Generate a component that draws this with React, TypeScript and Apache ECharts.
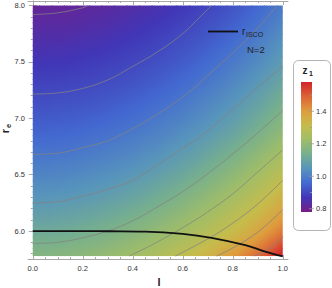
import React, { useEffect, useRef } from 'react';
import * as echarts from 'echarts';

// ---------- data ----------
const L_VALUES = [0, 0.05, 0.1, 0.15, 0.2, 0.25, 0.3, 0.35, 0.4, 0.45, 0.5, 0.55, 0.6, 0.65, 0.7, 0.75, 0.8, 0.85, 0.9, 0.95, 1.0];
const R_VALUES = [8.0, 7.9, 7.8, 7.7, 7.6, 7.5, 7.4, 7.3, 7.2, 7.1, 7.0, 6.9, 6.8, 6.7, 6.6, 6.5, 6.4, 6.3, 6.2, 6.1, 6.0, 5.9, 5.8];

const Z_R80 = [0.812,0.813,0.814,0.817,0.820,0.823,0.828,0.834,0.840,0.847,0.855,0.863,0.872,0.883,0.894,0.906,0.920,0.935,0.952,0.971,0.992];
const Z_R79 = [0.822,0.823,0.824,0.826,0.830,0.834,0.839,0.845,0.851,0.858,0.865,0.874,0.883,0.894,0.906,0.918,0.932,0.948,0.966,0.986,1.007];
const Z_R78 = [0.833,0.834,0.835,0.837,0.841,0.845,0.849,0.855,0.862,0.869,0.877,0.885,0.896,0.906,0.918,0.931,0.946,0.963,0.981,1.001,1.022];
const Z_R77 = [0.844,0.845,0.846,0.848,0.852,0.856,0.861,0.866,0.873,0.880,0.889,0.898,0.908,0.918,0.930,0.944,0.960,0.977,0.996,1.016,1.038];
const Z_R76 = [0.855,0.856,0.857,0.860,0.863,0.867,0.872,0.878,0.885,0.893,0.900,0.910,0.920,0.931,0.944,0.959,0.975,0.992,1.011,1.032,1.055];
const Z_R75 = [0.866,0.867,0.868,0.871,0.875,0.879,0.884,0.890,0.897,0.904,0.913,0.922,0.933,0.945,0.959,0.974,0.990,1.008,1.027,1.048,1.071];
const Z_R74 = [0.878,0.879,0.881,0.883,0.887,0.891,0.897,0.902,0.909,0.917,0.926,0.936,0.947,0.960,0.974,0.989,1.006,1.024,1.044,1.065,1.089];
const Z_R73 = [0.891,0.892,0.893,0.896,0.899,0.904,0.909,0.915,0.922,0.930,0.940,0.950,0.962,0.975,0.989,1.005,1.022,1.040,1.061,1.083,1.107];
const Z_R72 = [0.903,0.904,0.906,0.909,0.912,0.917,0.922,0.928,0.936,0.945,0.955,0.965,0.978,0.991,1.006,1.021,1.039,1.058,1.079,1.102,1.127];
const Z_R71 = [0.916,0.917,0.919,0.922,0.925,0.930,0.936,0.943,0.951,0.960,0.970,0.981,0.993,1.007,1.022,1.038,1.056,1.076,1.097,1.121,1.147];
const Z_R70 = [0.930,0.931,0.933,0.936,0.940,0.945,0.951,0.958,0.966,0.976,0.986,0.998,1.010,1.024,1.039,1.056,1.074,1.094,1.117,1.141,1.167];
const Z_R69 = [0.945,0.946,0.948,0.951,0.955,0.961,0.967,0.975,0.983,0.992,1.003,1.015,1.028,1.042,1.057,1.074,1.093,1.114,1.137,1.162,1.188];
const Z_R68 = [0.961,0.962,0.964,0.967,0.972,0.978,0.984,0.992,1.001,1.010,1.021,1.034,1.047,1.062,1.078,1.096,1.116,1.138,1.161,1.186,1.213];
const Z_R67 = [0.978,0.979,0.981,0.984,0.989,0.995,1.002,1.009,1.018,1.029,1.040,1.053,1.067,1.082,1.100,1.119,1.140,1.162,1.186,1.211,1.238];
const Z_R66 = [0.995,0.996,0.998,1.002,1.007,1.013,1.020,1.028,1.037,1.048,1.060,1.073,1.087,1.104,1.123,1.143,1.164,1.187,1.211,1.236,1.264];
const Z_R65 = [1.013,1.014,1.016,1.020,1.025,1.032,1.039,1.047,1.057,1.068,1.081,1.094,1.110,1.128,1.147,1.167,1.189,1.212,1.236,1.262,1.290];
const Z_R64 = [1.032,1.033,1.035,1.039,1.044,1.051,1.058,1.067,1.078,1.089,1.103,1.117,1.134,1.152,1.171,1.191,1.214,1.237,1.262,1.288,1.317];
const Z_R63 = [1.051,1.052,1.055,1.059,1.064,1.071,1.079,1.088,1.099,1.112,1.126,1.141,1.158,1.176,1.196,1.217,1.239,1.263,1.288,1.315,1.346];
const Z_R62 = [1.071,1.072,1.075,1.080,1.085,1.092,1.101,1.111,1.122,1.135,1.150,1.165,1.182,1.201,1.221,1.242,1.265,1.289,1.315,1.344,1.378];
const Z_R61 = [1.092,1.093,1.096,1.101,1.107,1.115,1.124,1.134,1.146,1.159,1.174,1.190,1.207,1.227,1.246,1.268,1.291,1.316,1.344,1.376,1.411];
const Z_R60 = [1.115,1.116,1.119,1.124,1.131,1.139,1.148,1.158,1.170,1.184,1.199,1.215,1.233,1.252,1.272,1.294,1.318,1.345,1.378,1.414,1.456];
const Z_R59 = [1.139,1.140,1.143,1.149,1.155,1.163,1.173,1.184,1.197,1.211,1.227,1.243,1.261,1.281,1.303,1.326,1.354,1.386,1.422,1.464,1.515];
const Z_R58 = [1.163,1.164,1.168,1.173,1.180,1.189,1.199,1.210,1.224,1.238,1.254,1.272,1.291,1.312,1.336,1.364,1.396,1.432,1.473,1.520,1.575];

const Z_ROWS = [Z_R80, Z_R79, Z_R78, Z_R77, Z_R76, Z_R75, Z_R74, Z_R73, Z_R72, Z_R71, Z_R70, Z_R69, Z_R68, Z_R67, Z_R66, Z_R65, Z_R64, Z_R63, Z_R62, Z_R61, Z_R60, Z_R59, Z_R58];

// contour lines [l, r]
const CONTOUR_A = [[0, 7.92], [0.1, 7.935], [0.2, 7.98], [0.22, 8.0]];
const CONTOUR_B = [[0, 7.215], [0.1, 7.225], [0.2, 7.265], [0.3, 7.34], [0.4, 7.46], [0.5, 7.59], [0.6, 7.75], [0.67, 7.9], [0.715, 8.0]];
const CONTOUR_C = [[0, 6.68], [0.1, 6.69], [0.2, 6.74], [0.3, 6.8], [0.388, 6.894], [0.45, 6.97], [0.55, 7.11], [0.635, 7.25], [0.7, 7.38], [0.8, 7.58], [0.9, 7.8], [0.97, 7.98], [0.98, 8.0]];
const CONTOUR_D = [[0, 6.25], [0.1, 6.26], [0.2, 6.31], [0.3, 6.37], [0.4, 6.45], [0.488, 6.57], [0.588, 6.717], [0.668, 6.835], [0.75, 6.98], [0.888, 7.25], [1.0, 7.46]];
const CONTOUR_E = [[0, 5.89], [0.1, 5.9], [0.2, 5.94], [0.3, 6.0], [0.4, 6.09], [0.488, 6.2], [0.6, 6.35], [0.695, 6.5], [0.82, 6.72], [0.9, 6.87], [1.0, 7.07]];
const CONTOUR_F = [[0.385, 5.778], [0.448, 5.845], [0.488, 5.89], [0.6, 6.03], [0.7, 6.17], [0.8, 6.33], [0.888, 6.5], [1.0, 6.72]];
const CONTOUR_G = [[0.57, 5.778], [0.7, 5.93], [0.8, 6.07], [0.9, 6.24], [1.0, 6.45]];
const CONTOUR_H = [[0.735, 5.778], [0.8, 5.85], [0.9, 5.99], [1.0, 6.19]];
const CONTOUR_I = [[0.885, 5.778], [0.95, 5.85], [1.0, 5.95]];
const CONTOURS = [CONTOUR_A, CONTOUR_B, CONTOUR_C, CONTOUR_D, CONTOUR_E, CONTOUR_F, CONTOUR_G, CONTOUR_H, CONTOUR_I];

const R_ISCO = [[0, 6.0], [0.2, 6.0], [0.3, 5.998], [0.45, 5.995], [0.6, 5.975], [0.715, 5.94], [0.85, 5.875], [0.93, 5.817], [1.0, 5.775]];

const X_MAJOR = [0, 0.2, 0.4, 0.6, 0.8, 1.0];
const X_MINOR = [0.05, 0.1, 0.15, 0.25, 0.3, 0.35, 0.45, 0.5, 0.55, 0.65, 0.7, 0.75, 0.85, 0.9, 0.95];
const Y_MAJOR = [6.0, 6.5, 7.0, 7.5, 8.0];
const Y_MINOR = [5.8, 5.9, 6.1, 6.2, 6.3, 6.4, 6.6, 6.7, 6.8, 6.9, 7.1, 7.2, 7.3, 7.4, 7.6, 7.7, 7.8, 7.9];
const BAR_TICKS = [0.8, 1.0, 1.2, 1.4];
const BAR_MINOR = [0.9, 1.1, 1.3, 1.5];

const Z_MIN = 0.78;
const Z_MAX = 1.58;
const RAINBOW = ['#781C86', '#4136B6', '#436AD0', '#5794BC', '#76AF8E', '#9FBD68', '#C5BC4C', '#DE9C3D', '#DC6336', '#D22229'];

// ---------- layout ----------
const W = 332;
const H = 288;
const FONT = 'Liberation Sans, Arial, sans-serif';
const FRAME = '#a8a8a8';
const L_LO = 0, L_HI = 1, R_LO = 5.778, R_HI = 8.0;
const DL = 0.05, DR = 0.1;
const OVERLAP = 1.0;
const BAR_X = 301, BAR_W = 11, BAR_TOP = 82, BAR_BOTTOM = 212;

const barY = (v: number) => BAR_BOTTOM - ((v - Z_MIN) / (Z_MAX - Z_MIN)) * (BAR_BOTTOM - BAR_TOP);

const RGB = RAINBOW.map((h) => [parseInt(h.slice(1, 3), 16), parseInt(h.slice(3, 5), 16), parseInt(h.slice(5, 7), 16)]);
const colorOf = (v: number) => {
  const t = Math.min(Math.max((v - Z_MIN) / (Z_MAX - Z_MIN), 0), 1) * (RGB.length - 1);
  const k = Math.min(Math.floor(t), RGB.length - 2);
  const f = t - k;
  const a = RGB[k], b = RGB[k + 1];
  return `rgb(${Math.round(a[0] + (b[0] - a[0]) * f)},${Math.round(a[1] + (b[1] - a[1]) * f)},${Math.round(a[2] + (b[2] - a[2]) * f)})`;
};
const STOP_VALUES = RAINBOW.map((_, k) => Z_MIN + (k * (Z_MAX - Z_MIN)) / (RAINBOW.length - 1));

export default function App() {
  const ref = useRef<HTMLDivElement>(null);

  useEffect(() => {
    if (!ref.current) return;
    const chart = echarts.init(ref.current, null, { renderer: 'svg' });

    const NC = L_VALUES.length;
    const NR = R_VALUES.length;
    const cells: number[][] = [];
    R_VALUES.forEach((r, i) => {
      L_VALUES.forEach((l, j) => {
        cells.push([l, r, Z_ROWS[i][j]]);
      });
    });

    const axisCommon = (min: number, max: number) => ({
      type: 'value' as const,
      min,
      max,
      splitLine: { show: false },
      minorTick: { show: false },
    });
    const XMIN = -0.019, XMAX = 1.021, YMIN = 5.752, YMAX = 8.04;
    const majorTick = (vals: number[]) => ({ show: true, inside: true, length: 4, customValues: vals, lineStyle: { color: FRAME, width: 1 } });
    const minorTickS = (vals: number[]) => ({ show: true, inside: true, length: 2, customValues: vals, lineStyle: { color: FRAME, width: 1 } });
    const labelStyle = { fontSize: 7.5, color: '#333', fontFamily: FONT };

    const stops = RAINBOW.map((c, i) => ({ offset: i / (RAINBOW.length - 1), color: c }));

    const graphics: any[] = [];
    graphics.push({ type: 'rect', z: 100, shape: { x: 293.5, y: 60.5, width: 37, height: 170, r: 5 }, style: { fill: '#fff', stroke: '#b4b4b4', lineWidth: 1 } });
    graphics.push({ type: 'rect', z: 101, shape: { x: BAR_X, y: BAR_TOP, width: BAR_W, height: BAR_BOTTOM - BAR_TOP }, style: { fill: { type: 'linear', x: 0, y: 1, x2: 0, y2: 0, colorStops: stops } } });
    BAR_TICKS.forEach((v) => {
      graphics.push({ type: 'line', z: 102, shape: { x1: BAR_X + BAR_W - 3, y1: barY(v), x2: BAR_X + BAR_W + 2, y2: barY(v) }, style: { stroke: '#999', lineWidth: 0.8 } });
      graphics.push({ type: 'text', z: 102, x: 316, y: barY(v), style: { text: v.toFixed(1), fontSize: 7.5, fill: '#333', fontFamily: FONT, align: 'left', verticalAlign: 'middle' } });
    });
    BAR_MINOR.forEach((v) => {
      graphics.push({ type: 'line', z: 102, shape: { x1: BAR_X + BAR_W - 2, y1: barY(v), x2: BAR_X + BAR_W, y2: barY(v) }, style: { stroke: '#999', lineWidth: 0.8 } });
    });
    graphics.push({ type: 'text', z: 102, x: 305, y: 70, style: { text: 'z', fontSize: 10, fontWeight: 'bold', fill: '#222', fontFamily: FONT, align: 'center', verticalAlign: 'middle' } });
    graphics.push({ type: 'text', z: 102, x: 311, y: 73, style: { text: '1', fontSize: 7, fontWeight: 'bold', fill: '#222', fontFamily: FONT, align: 'center', verticalAlign: 'middle' } });
    graphics.push({ type: 'line', z: 102, shape: { x1: 208, y1: 31.5, x2: 238, y2: 31.5 }, style: { stroke: '#111', lineWidth: 1.8 } });
    graphics.push({ type: 'text', z: 102, x: 242, y: 31, style: { text: 'r', fontSize: 10, fill: '#222', fontFamily: FONT, align: 'left', verticalAlign: 'middle' } });
    graphics.push({ type: 'text', z: 102, x: 246, y: 34.5, style: { text: 'ISCO', fontSize: 7, fill: '#222', fontFamily: FONT, align: 'left', verticalAlign: 'middle' } });
    graphics.push({ type: 'text', z: 102, x: 247, y: 49, style: { text: 'N=2', fontSize: 9.5, fill: '#222', fontFamily: FONT, align: 'left', verticalAlign: 'middle' } });
    graphics.push({ type: 'text', z: 102, x: 159, y: 282, style: { text: 'l', fontSize: 11, fontWeight: 'bold', fill: '#222', fontFamily: FONT, align: 'center', verticalAlign: 'middle' } });
    graphics.push({ type: 'text', z: 102, x: 5, y: 131, rotation: Math.PI / 2, style: { text: 'r', fontSize: 11, fontWeight: 'bold', fill: '#222', fontFamily: FONT, align: 'center', verticalAlign: 'middle' } });
    graphics.push({ type: 'text', z: 102, x: 8.5, y: 126, rotation: Math.PI / 2, style: { text: 'e', fontSize: 7.5, fontWeight: 'bold', fill: '#222', fontFamily: FONT, align: 'center', verticalAlign: 'middle' } });

    const renderCell = (params: any, api: any) => {
      const idx = params.dataIndexInside as number;
      const i = Math.floor(idx / NC);
      const j = idx % NC;
      const l = api.value(0) as number;
      const r = api.value(1) as number;
      const z = api.value(2) as number;
      const zAt = (ii: number, jj: number) => api.value(2, ii * NC + jj) as number;
      const jl = Math.max(j - 1, 0), jr = Math.min(j + 1, NC - 1);
      const it = Math.max(i - 1, 0), ib = Math.min(i + 1, NR - 1);
      const dzCol = (zAt(i, jr) - zAt(i, jl)) / (jr - jl);
      const dzRow = (zAt(ib, j) - zAt(it, j)) / (ib - it);

      const x0 = Math.max(l - DL / 2, L_LO);
      const x1 = Math.min(l + DL / 2, L_HI);
      const y0 = Math.min(r + DR / 2, R_HI);
      const y1 = Math.max(r - DR / 2, R_LO);
      const p0 = api.coord([x0, y0]);
      const p1 = api.coord([x1, y1]);
      const c = api.coord([l, r]);
      const stepX = api.size([DL, 0])[0];
      const stepY = api.size([0, DR])[1];
      const gx = dzCol / stepX;
      const gy = dzRow / stepY;
      const padX = x1 < L_HI ? OVERLAP : 0;
      const padY = y1 > R_LO ? OVERLAP : 0;
      const rx0 = p0[0], ry0 = p0[1], rx1 = p1[0] + padX, ry1 = p1[1] + padY;

      const gmag = Math.sqrt(gx * gx + gy * gy);
      let fill: any = colorOf(z);
      if (gmag > 1e-9) {
        const corners = [[rx0, ry0], [rx1, ry0], [rx0, ry1], [rx1, ry1]];
        const zs = corners.map((p) => z + gx * (p[0] - c[0]) + gy * (p[1] - c[1]));
        const zlo = Math.min(...zs);
        const zhi = Math.max(...zs);
        const ux = gx / gmag, uy = gy / gmag;
        const t0 = (zlo - z) / gmag, t1 = (zhi - z) / gmag;
        const colorStops: any[] = [{ offset: 0, color: colorOf(zlo) }];
        STOP_VALUES.forEach((sv) => {
          if (sv > zlo && sv < zhi) colorStops.push({ offset: (sv - zlo) / (zhi - zlo), color: colorOf(sv) });
        });
        colorStops.push({ offset: 1, color: colorOf(zhi) });
        fill = {
          type: 'linear',
          global: true,
          x: c[0] + ux * t0,
          y: c[1] + uy * t0,
          x2: c[0] + ux * t1,
          y2: c[1] + uy * t1,
          colorStops,
        };
      }
      return {
        type: 'rect',
        shape: { x: rx0, y: ry0, width: rx1 - rx0, height: ry1 - ry0 },
        style: { fill },
      };
    };

    const option: any = {
      animation: false,
      backgroundColor: '#fff',
      grid: { left: 28, right: 44, top: 1, bottom: 29, containLabel: false },
      xAxis: [
        { ...axisCommon(XMIN, XMAX), position: 'bottom', axisLine: { show: true, lineStyle: { color: FRAME } }, axisTick: majorTick(X_MAJOR), axisLabel: { ...labelStyle, customValues: X_MAJOR, margin: 5, formatter: (v: number) => v.toFixed(1) } },
        { ...axisCommon(XMIN, XMAX), position: 'bottom', axisLine: { show: false }, axisTick: minorTickS(X_MINOR), axisLabel: { show: false } },
        { ...axisCommon(XMIN, XMAX), position: 'top', axisLine: { show: true, lineStyle: { color: FRAME } }, axisTick: majorTick(X_MAJOR), axisLabel: { show: false } },
        { ...axisCommon(XMIN, XMAX), position: 'top', axisLine: { show: false }, axisTick: minorTickS(X_MINOR), axisLabel: { show: false } },
      ],
      yAxis: [
        { ...axisCommon(YMIN, YMAX), position: 'left', axisLine: { show: true, lineStyle: { color: FRAME } }, axisTick: majorTick(Y_MAJOR), axisLabel: { ...labelStyle, customValues: Y_MAJOR, margin: 3, formatter: (v: number) => v.toFixed(1) } },
        { ...axisCommon(YMIN, YMAX), position: 'left', axisLine: { show: false }, axisTick: minorTickS(Y_MINOR), axisLabel: { show: false } },
        { ...axisCommon(YMIN, YMAX), position: 'right', axisLine: { show: true, lineStyle: { color: FRAME } }, axisTick: majorTick(Y_MAJOR), axisLabel: { show: false } },
        { ...axisCommon(YMIN, YMAX), position: 'right', axisLine: { show: false }, axisTick: minorTickS(Y_MINOR), axisLabel: { show: false } },
      ],
      graphic: graphics,
      series: [
        {
          type: 'custom',
          xAxisIndex: 0,
          yAxisIndex: 0,
          silent: true,
          data: cells,
          renderItem: renderCell,
        },
        ...CONTOURS.map((c) => ({
          type: 'line',
          xAxisIndex: 0,
          yAxisIndex: 0,
          data: c,
          smooth: 0.4,
          showSymbol: false,
          silent: true,
          lineStyle: { color: 'rgba(130,130,130,0.85)', width: 0.9 },
        })),
        {
          type: 'line',
          xAxisIndex: 0,
          yAxisIndex: 0,
          data: R_ISCO,
          smooth: 0.4,
          showSymbol: false,
          silent: true,
          lineStyle: { color: '#111', width: 1.8 },
        },
      ],
    };
    chart.setOption(option);
    return () => chart.dispose();
  }, []);

  return <div ref={ref} style={{ position: 'fixed', left: 0, top: 0, width: W, height: H }} />;
}
